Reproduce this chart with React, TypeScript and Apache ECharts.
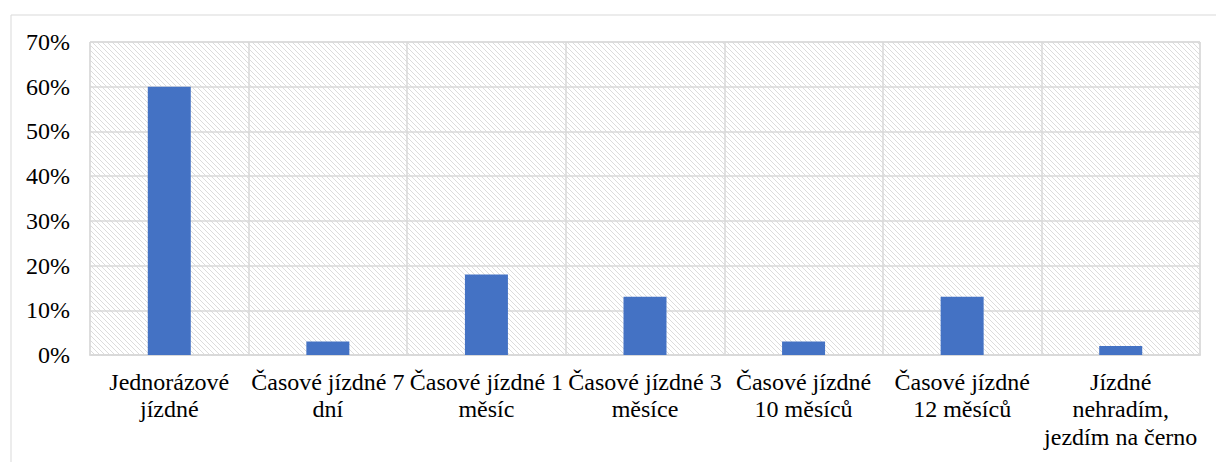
import React, { useEffect, useRef } from "react";
import * as echarts from "echarts";

// Ticket types (axis labels are wrapped the way they appear under each column)
const categories = [
  "Jednorázové\njízdné",
  "Časové jízdné 7\ndní",
  "Časové jízdné 1\nměsíc",
  "Časové jízdné 3\nměsíce",
  "Časové jízdné\n10 měsíců",
  "Časové jízdné\n12 měsíců",
  "Jízdné\nnehradím,\njezdím na černo",
];

// Share of respondents, in percent
const shares = [60, 3, 18, 13, 3, 13, 2];

// Value axis range and step, in percent
const yMin = 0;
const yMax = 70;
const yStep = 10;

const GRID_COLOR = "#d9d9d9";
const BAR_COLOR = "#4472c4";
const FONT = "Liberation Serif";

// Small tile with a downward diagonal stroke, repeated over the plot area
function makeHatch(): HTMLCanvasElement {
  const size = 5;
  const c = document.createElement("canvas");
  c.width = size;
  c.height = size;
  const ctx = c.getContext("2d")!;
  ctx.fillStyle = "#ffffff";
  ctx.fillRect(0, 0, size, size);
  ctx.fillStyle = "#dcdcdc";
  for (let i = 0; i < size; i++) ctx.fillRect(i, i, 1, 1);
  return c;
}

export default function App() {
  const ref = useRef<HTMLDivElement>(null);

  useEffect(() => {
    if (!ref.current) return;
    const chart = echarts.init(ref.current, undefined, { renderer: "svg" });
    const hatch = makeHatch();

    const labelStyle = {
      color: "#000000",
      fontFamily: FONT,
      fontSize: 24,
    };

    chart.setOption({
      animation: false,
      backgroundColor: "#ffffff",
      textStyle: { fontFamily: FONT, fontSize: 24, color: "#000000" },
      graphic: [
        {
          type: "rect",
          left: 8.5,
          top: 12.5,
          shape: { width: 1400, height: 600 },
          style: { fill: "none", stroke: GRID_COLOR, lineWidth: 1 },
          silent: true,
          z: -10,
        },
      ],
      grid: {
        left: 90,
        right: 16,
        top: 42,
        bottom: 107,
        show: true,
        backgroundColor: {
          image: hatch,
          repeat: "repeat",
          imageWidth: 5,
          imageHeight: 5,
        },
        borderColor: GRID_COLOR,
        borderWidth: 1,
      },
      xAxis: {
        type: "category",
        data: categories,
        boundaryGap: true,
        axisLine: { show: true, lineStyle: { color: GRID_COLOR, width: 2 } },
        axisTick: { show: false },
        splitLine: { show: true, lineStyle: { color: GRID_COLOR, width: 1.5 } },
        axisLabel: {
          ...labelStyle,
          interval: 0,
          hideOverlap: false,
          margin: 13,
          lineHeight: 27.5,
          align: "center",
        },
      },
      yAxis: {
        type: "value",
        min: yMin,
        max: yMax,
        interval: yStep,
        axisLine: { show: false },
        axisTick: { show: false },
        splitLine: { show: true, lineStyle: { color: GRID_COLOR, width: 1.5 } },
        axisLabel: {
          ...labelStyle,
          formatter: "{value}%",
          margin: 20,
        },
      },
      series: [
        {
          type: "bar",
          data: shares,
          barWidth: 43,
          itemStyle: { color: BAR_COLOR },
        },
      ],
    });

    return () => chart.dispose();
  }, []);

  return (
    <div
      ref={ref}
      style={{ position: "fixed", left: 0, top: 0, width: 1216, height: 462 }}
    />
  );
}
